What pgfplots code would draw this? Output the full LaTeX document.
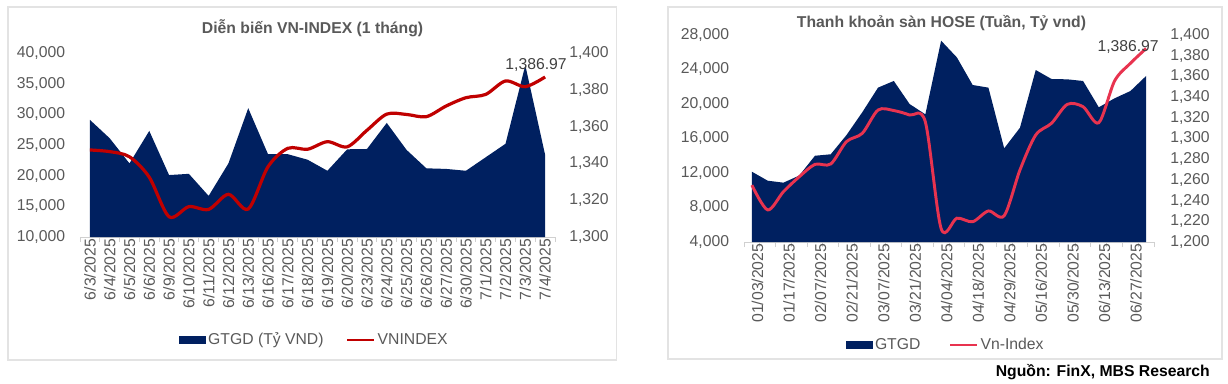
\documentclass[border=0pt]{standalone}
\usepackage{pgfplots}
\pgfplotsset{compat=1.18}
\usepackage{fontspec}
\setmainfont{Liberation Sans}
\definecolor{navy}{HTML}{002060}
\definecolor{vnred}{HTML}{C00000}
\definecolor{vnpink}{HTML}{E8334F}
\definecolor{txt}{HTML}{595959}
\definecolor{axg}{HTML}{D0D0D0}
\definecolor{bord}{HTML}{E3E3E3}
\newcommand{\fs}{\fontsize{11.8}{14}\selectfont}
\pgfplotsset{
  common/.style={
    scale only axis, anchor=south west,
    scaled y ticks=false,
    /pgf/number format/assume math mode=true,
    /pgf/number format/1000 sep={,},
    tick label style={font=\fs, text=txt},
    major tick length=0pt, minor tick length=3.75pt, tick align=outside,
    x axis line style={draw=axg, line width=0.75pt},
    y axis line style={draw=none},
    minor x tick style={draw=axg, line width=0.75pt},
    major x tick style={draw=none},
    ytick style={draw=none},
    xticklabel style={yshift=-1.2pt, rotate=90, anchor=east, inner sep=0pt},
  },
  primary/.style={common, axis x line*=bottom, axis y line*=left,
    yticklabel style={anchor=east, inner sep=0pt, xshift=-11pt}},
  secondary/.style={common, axis x line=none, axis y line*=right,
    xtick=\empty, minor xtick=\empty, clip mode=individual,
    yticklabel style={anchor=west, inner sep=0pt, xshift=10.5pt}},
}
\begin{document}
\begin{tikzpicture}
\useasboundingbox (0,0) rectangle (921pt,287.25pt);
% panel borders
\draw[bord, line width=1.1pt] (6pt,17.25pt) rectangle (462.5pt,282pt);
\draw[bord, line width=1.1pt] (501pt,18pt) rectangle (916.5pt,282pt);

% ---------------- Left chart ----------------
\begin{axis}[primary,
  at={(60pt,109.5pt)}, width=356.25pt, height=138pt,
  xmin=-0.5, xmax=23.5, ymin=10000, ymax=40000,
  ytick={10000,15000,...,40000},
  xtick={0,...,23},
  xticklabels={6/3/2025,6/4/2025,6/5/2025,6/6/2025,6/9/2025,6/10/2025,6/11/2025,6/12/2025,6/13/2025,6/16/2025,6/17/2025,6/18/2025,6/19/2025,6/20/2025,6/23/2025,6/24/2025,6/25/2025,6/26/2025,6/27/2025,6/30/2025,7/1/2025,7/2/2025,7/3/2025,7/4/2025},
  minor xtick={-0.5,0.5,...,23.5},
]
\addplot[fill=navy, draw=none] coordinates {
(0,29100) (1,26100) (2,22000) (3,27300) (4,20100) (5,20300) (6,16700) (7,22000)
(8,31000) (9,23500) (10,23500) (11,22600) (12,20800) (13,24300) (14,24350) (15,28600)
(16,24200) (17,21200) (18,21100) (19,20800) (20,23000) (21,25200) (22,38000) (23,23400)
} \closedcycle;
\end{axis}
\begin{axis}[secondary,
  at={(60pt,109.5pt)}, width=356.25pt, height=138pt,
  xmin=-0.5, xmax=23.5, ymin=1300, ymax=1400,
  ytick={1300,1320,...,1400},
  legend style={at={(rel axis cs:0.494,-0.56)}, anchor=center, draw=none, fill=none,
    legend columns=2, font=\fs, text=txt,
    /tikz/every even column/.append style={column sep=15pt},
    nodes={inner sep=2pt}},
]
\addlegendimage{legend image code/.code={\fill[navy] (0pt,-2.6pt) rectangle (19.5pt,2.6pt);}}
\addlegendentry{GTGD (Tỷ VND)}
\addplot[vnred, line width=2.4pt, smooth, forget plot] coordinates {
(0,1347.3) (1,1346.4) (2,1343.6) (3,1332.5) (4,1311) (5,1316.5) (6,1315) (7,1323.2)
(8,1315.2) (9,1338.2) (10,1348.2) (11,1347.7) (12,1351.8) (13,1349) (14,1358) (15,1366.8)
(16,1366.6) (17,1365.4) (18,1371.2) (19,1375.7) (20,1377.5) (21,1384.8) (22,1381.7) (23,1386.97)
};
\addlegendimage{legend image code/.code={\draw[vnred, line width=1.6pt] (0pt,0pt) -- (20pt,0pt);}}
\addlegendentry{VNINDEX}
\node[font=\fs, text=black!75, xshift=-6.75pt, yshift=9pt] at (axis cs:23,1386.97) {1,386.97};
\end{axis}

% ---------------- Right chart ----------------
\begin{axis}[primary,
  at={(558pt,105.75pt)}, width=307.5pt, height=155.25pt,
  xmin=-0.5, xmax=25.5, ymin=4000, ymax=28000,
  ytick={4000,8000,...,28000},
  xtick={0,2,...,24},
  xticklabels={01/03/2025,01/17/2025,02/07/2025,02/21/2025,03/07/2025,03/21/2025,04/04/2025,04/18/2025,04/29/2025,05/16/2025,05/30/2025,06/13/2025,06/27/2025},
  minor xtick={-0.5,0.5,...,25.5},
  xticklabel style={yshift=-4.2pt},
]
\addplot[fill=navy, draw=none] coordinates {
(0,12150) (1,11110) (2,10880) (3,11700) (4,14000) (5,14170) (6,16400) (7,19040)
(8,21900) (9,22670) (10,20000) (11,18800) (12,27340) (13,25400) (14,22200) (15,21900)
(16,14860) (17,17250) (18,23940) (19,22900) (20,22860) (21,22670) (22,19620) (23,20660)
(24,21500) (25,23250)
} \closedcycle;
\end{axis}
\begin{axis}[secondary,
  at={(558pt,105.75pt)}, width=307.5pt, height=155.25pt,
  xmin=-0.5, xmax=25.5, ymin=1200, ymax=1400,
  ytick={1200,1220,...,1400},
  yticklabel style={xshift=1.5pt},
  legend style={at={(rel axis cs:0.4927,-0.4976)}, anchor=center, draw=none, fill=none,
    legend columns=2, font=\fs, text=txt,
    /tikz/every even column/.append style={column sep=19.5pt},
    nodes={inner sep=2pt}},
]
\addlegendimage{legend image code/.code={\fill[navy] (0pt,-2.6pt) rectangle (19.5pt,2.6pt);}}
\addlegendentry{GTGD}
\addplot[vnpink, line width=2.2pt, smooth, forget plot] coordinates {
(0,1255) (1,1231) (2,1248.6) (3,1263) (4,1275) (5,1275.4) (6,1297) (7,1305)
(8,1327.5) (9,1327) (10,1322.7) (11,1316) (12,1213) (13,1223) (14,1219.6) (15,1230)
(16,1225.4) (17,1269.6) (18,1303.4) (19,1314.7) (20,1333) (21,1330.7) (22,1315.3) (23,1355.6)
(24,1372.6) (25,1386.97)
};
\addlegendimage{legend image code/.code={\draw[vnpink, line width=1.6pt] (0pt,0pt) -- (20pt,0pt);}}
\addlegendentry{Vn-Index}
\node[font=\fs, text=black!75, xshift=-13.5pt, yshift=1.2pt] at (axis cs:25,1386.97) {1,386.97};
\end{axis}

% titles and source
\node[font=\bfseries\fs, text=txt] at (234.4pt,266pt) {Diễn biến VN-INDEX (1 tháng)};
\node[font=\bfseries\fs, text=txt] at (706.1pt,269.8pt) {Thanh khoản sàn HOSE (Tuần, Tỷ vnd)};
\node[font=\bfseries\fs, text=black, anchor=east, inner sep=0pt] at (907.5pt,7.9pt) {Nguồn: FinX, MBS Research};
\end{tikzpicture}
\end{document}
